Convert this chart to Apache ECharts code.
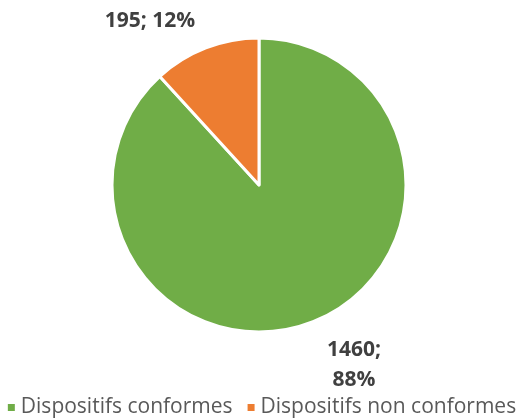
<!DOCTYPE html>
<html><head><meta charset="utf-8">
<script src="https://cdn.jsdelivr.net/npm/echarts@6/dist/echarts.min.js"></script>
<style>html,body{margin:0;padding:0;background:#fff}#c{width:522px;height:419px}</style>
</head><body><div id="c"></div>
<script>
var categories = ["Dispositifs conformes", "Dispositifs non conformes"];
var values = [1460, 195];
var percents = ["88%", "12%"];
var colors = ["#70AD47", "#ED7D31"];
var labelPos = [[354, 365], [150, 21]];
var chart = echarts.init(document.getElementById('c'));
chart.setOption({
  animation: false,
  legend: {
    bottom: -4, left: 'center', icon: 'rect', itemWidth: 9, itemHeight: 9, itemGap: 13,
    textStyle: {color: '#595959', fontSize: 21, fontFamily: 'Open Sans'},
    data: categories
  },
  series: [{
    type: 'pie', center: [259, 185], radius: 147, startAngle: 90, clockwise: true,
    itemStyle: {borderColor: '#fff', borderWidth: 3},
    label: {
      show: true, position: 'outside', color: '#404040', fontWeight: 'bold', fontSize: 21,
      fontFamily: 'Open Sans', lineHeight: 30,
      formatter: function (p) { return p.dataIndex === 0 ? p.value + ';\n' + percents[0] : p.value + '; ' + percents[1]; }
    },
    labelLine: {show: false},
    labelLayout: function (p) { return {x: labelPos[p.dataIndex][0], y: labelPos[p.dataIndex][1], align: 'center', verticalAlign: 'middle'}; },
    data: categories.map(function (c, i) { return {name: c, value: values[i], itemStyle: {color: colors[i]}}; })
  }]
});
</script></body></html>
